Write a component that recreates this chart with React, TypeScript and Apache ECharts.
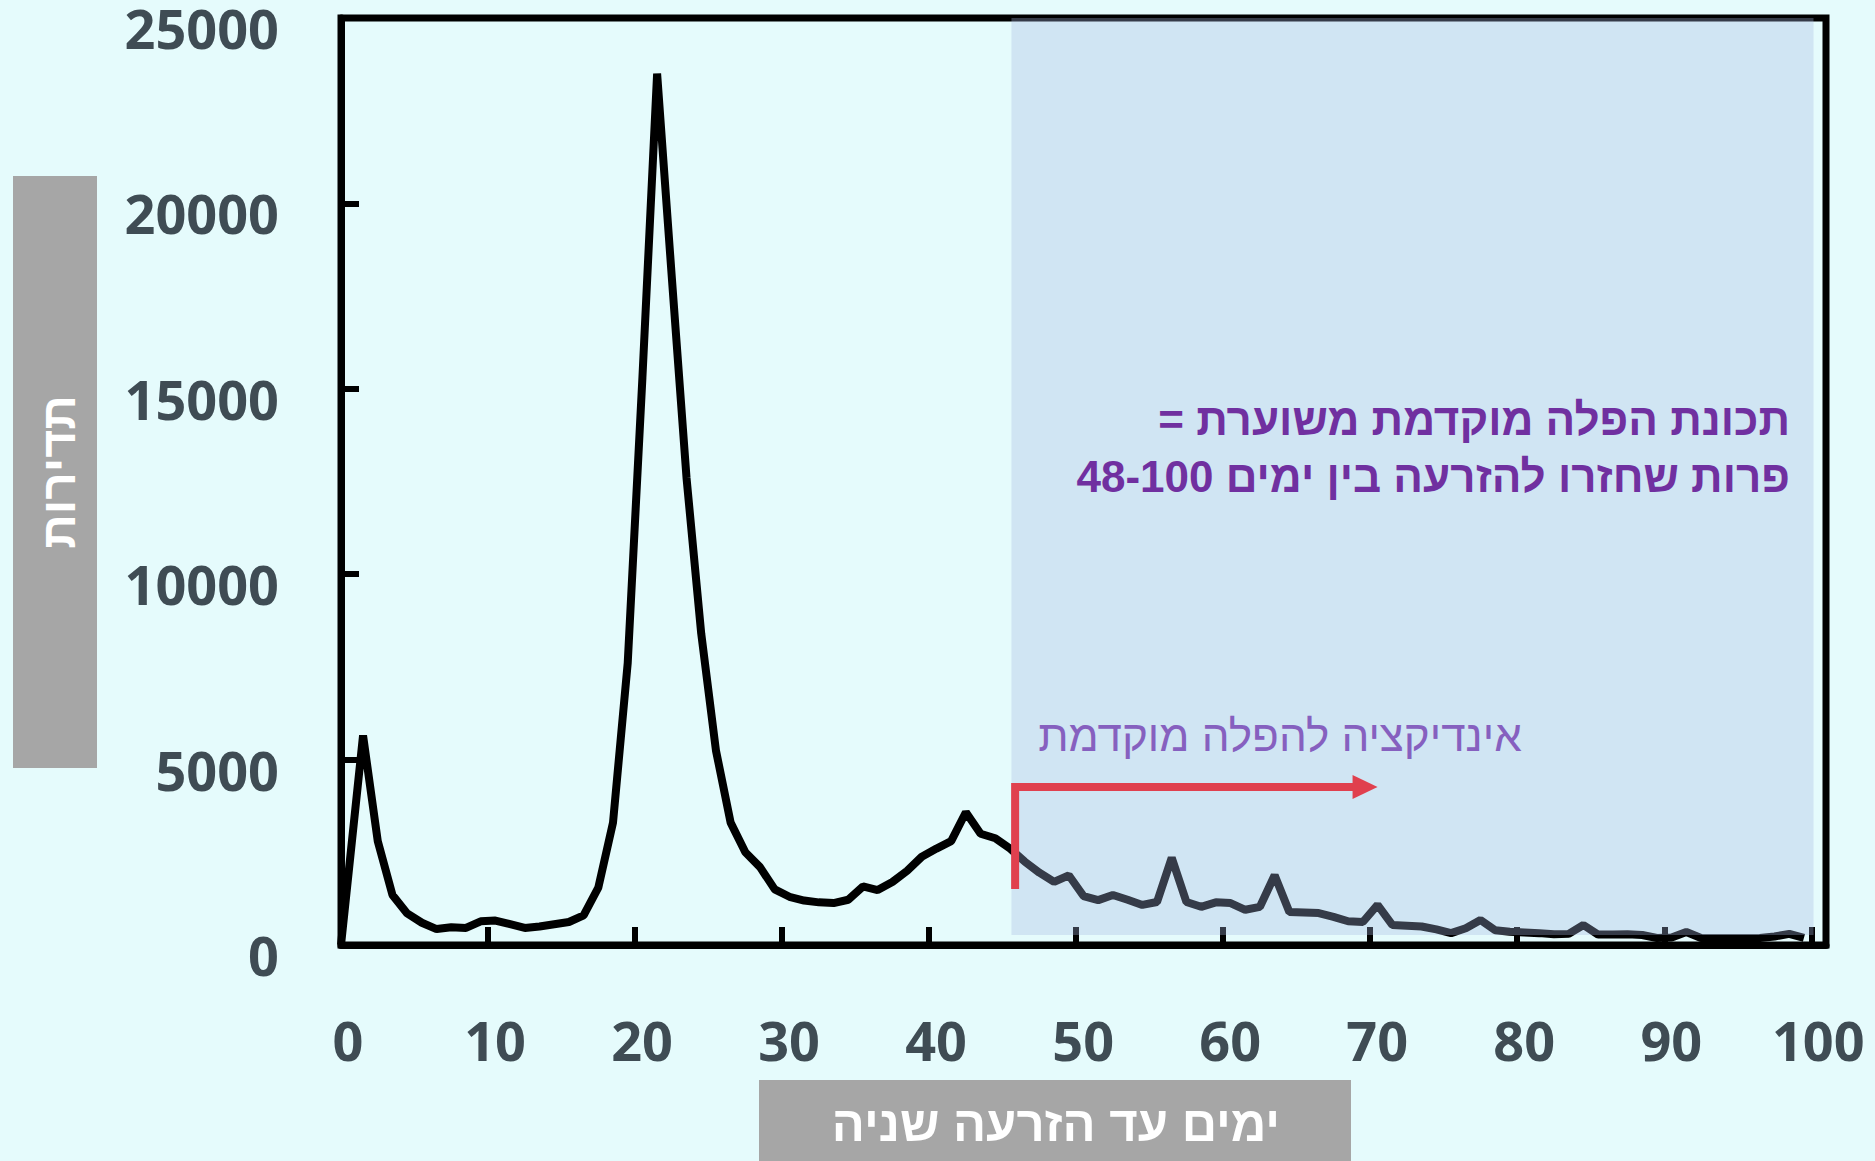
import React, { useEffect, useRef } from "react";
import * as echarts from "echarts";

// Days since insemination (bin centres) and frequency of cows returning to service
const days = [
  0, 1.5, 2.5, 3.5, 4.5, 5.5, 6.5, 7.5, 8.5, 9.5,
  10.5, 11.5, 12.5, 13.5, 14.5, 15.5, 16.5, 17.5, 18.5, 19.5,
  20.5, 21.5, 22.5, 23.5, 24.5, 25.5, 26.5, 27.5, 28.5, 29.5,
  30.5, 31.5, 32.5, 33.5, 34.5, 35.5, 36.5, 37.5, 38.5, 39.5,
  40.5, 41.5, 42.5, 43.5, 44.5, 45.5, 46.5, 47.5, 48.5, 49.5,
  50.5, 51.5, 52.5, 53.5, 54.5, 55.5, 56.5, 57.5, 58.5, 59.5,
  60.5, 61.5, 62.5, 63.5, 64.5, 65.5, 66.5, 67.5, 68.5, 69.5,
  70.5, 71.5, 72.5, 73.5, 74.5, 75.5, 76.5, 77.5, 78.5, 79.5,
  80.5, 81.5, 82.5, 83.5, 84.5, 85.5, 86.5, 87.5, 88.5, 89.5,
  90.5, 91.5, 92.5, 93.5, 94.5, 95.5, 96.5, 97.5, 98.5, 99.5,
];

const frequency = [
  0, 5650, 2800, 1350, 850, 600, 430, 480, 460, 640,
  660, 560, 460, 500, 560, 620, 800, 1550, 3300, 7600,
  15300, 23500, 18000, 12600, 8400, 5250, 3300, 2500, 2100, 1500,
  1300, 1200, 1150, 1130, 1220, 1580, 1480, 1700, 2000, 2380,
  2600, 2800, 3580, 3000, 2880, 2600, 2250, 1950, 1700, 1880,
  1320, 1210, 1350, 1220, 1080, 1160, 2350, 1160, 1030, 1150,
  1130, 950, 1030, 1880, 890, 875, 860, 760, 640, 620,
  1080, 540, 520, 500, 420, 320, 450, 675, 400, 360,
  340, 320, 290, 300, 540, 280, 280, 290, 270, 190,
  200, 350, 190, 180, 180, 180, 190, 230, 300, 190,
];

// Highlighted window [xStart, xEnd, yBottom, yTop]
const shadedWindow = [45.6, 100.15, 270, 25000];
// Indication arrow [x, yBottom, yTop, xTip]
const indicationArrow = [45.85, 1510, 4260, 70.5];

const xTitle = "ימים עד הזרעה שניה";
const yTitle = "תדירות";
const noteLine1 = "תכונת הפלה מוקדמת משוערת =\u200F";
const noteLine2 = "פרות שחזרו להזרעה בין ימים 48-100";
const arrowLabel = "אינדיקציה להפלה מוקדמת";

const hebFont = "'Liberation Sans', 'DejaVu Sans', Arial, sans-serif";
const tickFont = "'Open Sans', 'DejaVu Sans', sans-serif";

export default function App() {
  const ref = useRef<HTMLDivElement>(null);

  useEffect(() => {
    if (!ref.current) return;
    const chart = echarts.init(ref.current, null, { renderer: "svg" });
    const seriesData = days.map((d, i) => [d, frequency[i]]);

    chart.setOption({
      animation: false,
      backgroundColor: "#e5fbfc",
      grid: {
        left: 341,
        right: 49,
        top: 18,
        bottom: 216,
        show: true,
        borderColor: "#000",
        borderWidth: 7,
        backgroundColor: "transparent",
      },
      xAxis: {
        type: "value",
        min: 0,
        max: 101,
        interval: 10,
        splitLine: { show: false },
        axisLine: { show: true, lineStyle: { color: "#000", width: 7 } },
        axisTick: { show: true, inside: true, length: 18, lineStyle: { color: "#000", width: 6 } },
        axisLabel: {
          margin: 68,
          fontFamily: tickFont,
          fontWeight: 700,
          fontSize: 54,
          color: "#3f4c54",
          padding: [0, 0, 0, 14],
          showMaxLabel: false,
          formatter: (v: number) => (v % 10 === 0 ? String(v) : ""),
        },
      },
      yAxis: {
        type: "value",
        min: 0,
        max: 25000,
        interval: 5000,
        splitLine: { show: false },
        axisLine: { show: true, lineStyle: { color: "#000", width: 7 } },
        axisTick: { show: true, inside: true, length: 18, lineStyle: { color: "#000", width: 6 } },
        axisLabel: {
          margin: 62,
          fontFamily: tickFont,
          fontWeight: 700,
          fontSize: 54,
          color: "#3f4c54",
          verticalAlign: "top",
          lineHeight: 20,
          formatter: (v: number) => String(v),
        },
      },
      series: [
        {
          type: "line",
          data: seriesData,
          showSymbol: false,
          symbol: "none",
          z: 2,
          lineStyle: { color: "#000", width: 8 },
        },
        {
          type: "custom",
          z: 3,
          silent: true,
          data: [shadedWindow],
          encode: { x: [0, 1], y: [2, 3] },
          renderItem: (_p: any, api: any) => {
            const a = api.coord([api.value(0), api.value(3)]);
            const b = api.coord([api.value(1), api.value(2)]);
            return {
              type: "rect",
              shape: { x: a[0], y: a[1], width: b[0] - a[0], height: b[1] - a[1] },
              style: { fill: "rgba(165,185,225,0.32)" },
            };
          },
        },
        {
          type: "custom",
          z: 4,
          silent: true,
          data: [indicationArrow],
          encode: { x: [0, 3], y: [1, 2] },
          renderItem: (_p: any, api: any) => {
            const bottom = api.coord([api.value(0), api.value(1)]);
            const top = api.coord([api.value(0), api.value(2)]);
            const tip = api.coord([api.value(3), api.value(2)]);
            const headLen = 25;
            const headHalf = 12;
            return {
              type: "group",
              children: [
                {
                  type: "polyline",
                  shape: {
                    points: [
                      [bottom[0], bottom[1]],
                      [top[0], top[1]],
                      [tip[0] - headLen + 2, tip[1]],
                    ],
                  },
                  style: { stroke: "#e0404e", lineWidth: 8, fill: "none", lineJoin: "miter" },
                },
                {
                  type: "polygon",
                  shape: {
                    points: [
                      [tip[0], tip[1]],
                      [tip[0] - headLen, tip[1] - headHalf],
                      [tip[0] - headLen, tip[1] + headHalf],
                    ],
                  },
                  style: { fill: "#e0404e" },
                },
              ],
            };
          },
        },
      ],
      graphic: [
        {
          type: "rect",
          z: 10,
          shape: { x: 13, y: 176, width: 84, height: 592 },
          style: { fill: "#a6a6a6" },
        },
        {
          type: "text",
          z: 11,
          x: 58,
          y: 472,
          rotation: Math.PI / 2,
          style: {
            text: yTitle,
            fill: "#ffffff",
            font: `bold 48px ${hebFont}`,
            align: "center",
            verticalAlign: "middle",
          },
        },
        {
          type: "rect",
          z: 10,
          shape: { x: 759, y: 1080, width: 592, height: 81 },
          style: { fill: "#a6a6a6" },
        },
        {
          type: "text",
          z: 11,
          x: 1056,
          y: 1124,
          style: {
            text: xTitle,
            fill: "#ffffff",
            font: `bold 49px ${hebFont}`,
            align: "center",
            verticalAlign: "middle",
          },
        },
        {
          type: "text",
          z: 11,
          x: 1790,
          y: 419,
          style: {
            text: noteLine1,
            fill: "#7030a0",
            font: `bold 44px ${hebFont}`,
            align: "right",
            verticalAlign: "middle",
          },
        },
        {
          type: "text",
          z: 11,
          x: 1790,
          y: 476,
          style: {
            text: noteLine2,
            fill: "#7030a0",
            font: `bold 44px ${hebFont}`,
            align: "right",
            verticalAlign: "middle",
          },
        },
        {
          type: "text",
          z: 11,
          x: 1280,
          y: 735,
          style: {
            text: arrowLabel,
            fill: "#8660bf",
            font: `44px ${hebFont}`,
            align: "center",
            verticalAlign: "middle",
          },
        },
      ],
    });

    return () => chart.dispose();
  }, []);

  return (
    <div
      ref={ref}
      style={{ position: "fixed", left: 0, top: 0, width: 1875, height: 1161 }}
    />
  );
}
